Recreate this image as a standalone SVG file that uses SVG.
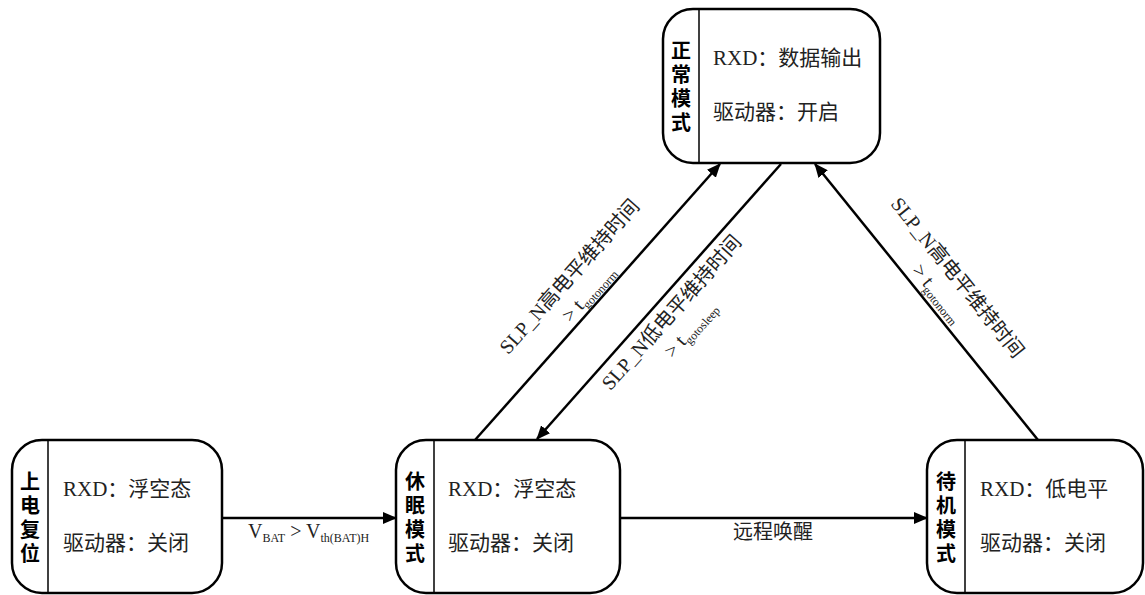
<svg xmlns="http://www.w3.org/2000/svg" width="1145" height="595" viewBox="0 0 1145 595">
<style>
.box{fill:#fff;stroke:#000;stroke-width:2.5}
.div{stroke:#000;stroke-width:1.5}
.txt{font-family:"Liberation Serif","Noto Sans CJK SC",serif;font-size:21px;fill:#222}
.vt{font-family:"Noto Sans CJK SC",sans-serif;font-size:20px;font-weight:bold;fill:#000;text-anchor:middle;writing-mode:vertical-rl;letter-spacing:4px}
.lbl{font-family:"Liberation Serif","Noto Sans CJK SC",serif;font-size:20px;fill:#222}
.sub{font-size:12px}
.conn{stroke:#000;stroke-width:2.5;fill:none;marker-end:url(#arr)}
</style>
<defs>
<marker id="arr" markerUnits="userSpaceOnUse" markerWidth="14" markerHeight="12" refX="13" refY="6" orient="auto">
<path d="M0,0 L14,6 L0,12 z" fill="#000"/>
</marker>
</defs>
<rect width="1145" height="595" fill="#fff"/>
<g id="connectors">
<line class="conn" x1="222" y1="518" x2="396" y2="518"/>
<line class="conn" x1="620" y1="518" x2="927" y2="518"/>
<line class="conn" x1="475" y1="440" x2="720" y2="164"/>
<line class="conn" x1="781" y1="164" x2="537" y2="439"/>
<line class="conn" x1="1038" y1="440" x2="815" y2="164"/>
<text class="lbl" x="248" y="538">V<tspan class="sub" dy="4">BAT</tspan><tspan dy="-4"> &gt; V</tspan><tspan class="sub" dy="4">th(BAT)H</tspan></text>
<text class="lbl" x="773" y="539" text-anchor="middle" font-size="19">远程唤醒</text>
<g transform="translate(574.5,281) rotate(-48.3)">
<text class="lbl" x="0" y="0" text-anchor="middle">SLP_N高电平维持时间</text>
<text class="lbl" x="0" y="25" text-anchor="middle">&gt; t<tspan class="sub" dy="4">gotonorm</tspan></text>
</g>
<g transform="translate(676.5,317) rotate(-48.4)">
<text class="lbl" x="0" y="0" text-anchor="middle">SLP_N低电平维持时间</text>
<text class="lbl" x="0" y="25" text-anchor="middle">&gt; t<tspan class="sub" dy="4">gotosleep</tspan></text>
</g>
<g transform="translate(952.3,281.8) rotate(51.2)">
<text class="lbl" x="0" y="0" text-anchor="middle">SLP_N高电平维持时间</text>
<text class="lbl" x="0" y="25" text-anchor="middle">&gt; t<tspan class="sub" dy="4">gotonorm</tspan></text>
</g>
</g>
<g id="node-normal">
<rect class="box" x="663" y="9" width="217" height="154" rx="30"/>
<line class="div" x1="699" y1="9" x2="699" y2="163"/>
<text class="vt" x="681" y="88">正常模式</text>
<text class="txt" x="713" y="65">RXD：数据输出</text>
<text class="txt" x="713" y="119">驱动器：开启</text>
</g>
<g id="node-poweron">
<rect class="box" x="12" y="440" width="210" height="153" rx="30"/>
<line class="div" x1="48" y1="440" x2="48" y2="593"/>
<text class="vt" x="30" y="519">上电复位</text>
<text class="txt" x="63" y="496">RXD：浮空态</text>
<text class="txt" x="63" y="550">驱动器：关闭</text>
</g>
<g id="node-sleep">
<rect class="box" x="396" y="440" width="224" height="153" rx="30"/>
<line class="div" x1="434" y1="440" x2="434" y2="593"/>
<text class="vt" x="415" y="519">休眠模式</text>
<text class="txt" x="448" y="496">RXD：浮空态</text>
<text class="txt" x="448" y="550">驱动器：关闭</text>
</g>
<g id="node-standby">
<rect class="box" x="927" y="440" width="216" height="153" rx="30"/>
<line class="div" x1="965" y1="440" x2="965" y2="593"/>
<text class="vt" x="946" y="519">待机模式</text>
<text class="txt" x="980" y="496">RXD：低电平</text>
<text class="txt" x="980" y="550">驱动器：关闭</text>
</g>
</svg>
